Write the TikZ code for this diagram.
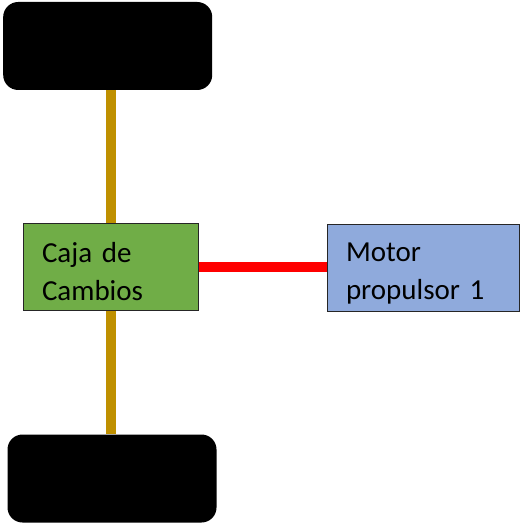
\documentclass[tikz,border=0pt]{standalone}
\usepackage{fontspec}
\setmainfont{Carlito}
\usetikzlibrary{calc}
\definecolor{verdecaja}{HTML}{70AD47}
\definecolor{azulmotor}{HTML}{8FAADC}
\definecolor{oroeje}{HTML}{BF9000}
\definecolor{rojoeje}{HTML}{FF0000}
\tikzset{
	rueda/.style={fill=black,rounded corners=15pt,inner sep=0pt,minimum width=209pt,minimum height=88pt},
	bloque/.style={draw=black!85,line width=1pt,inner xsep=19pt,inner ysep=0pt,align=left,
		font=\fontsize{29}{38}\selectfont,execute at begin node={\rule{0pt}{30pt}}},
	eje/.style={line width=10pt,oroeje},
}

\begin{document}
\begin{tikzpicture}[x=1pt,y=-1pt]
		\useasboundingbox (0,0) rectangle (521,526);
		\node[rueda] (ruedaA) at (107.7,46) {};
		\node[rueda] (ruedaB) at (112,478.5) {};
		\node[bloque,fill=verdecaja,text width=137pt,minimum height=87pt] (caja) at (110.5,267) {Caja de\\Cambios};
		\node[bloque,fill=azulmotor,text width=154pt,minimum height=86pt] (motor) at (423,268) {Motor\\propulsor 1};
		\draw[eje] (caja.north) -- (caja.north |- ruedaA.south);
		\draw[eje] (caja.south) -- (caja.south |- ruedaB.north);
		\draw[line width=10pt,rojoeje] (caja.east) -- (caja.east -| motor.west);
	\end{tikzpicture}
\end{document}
